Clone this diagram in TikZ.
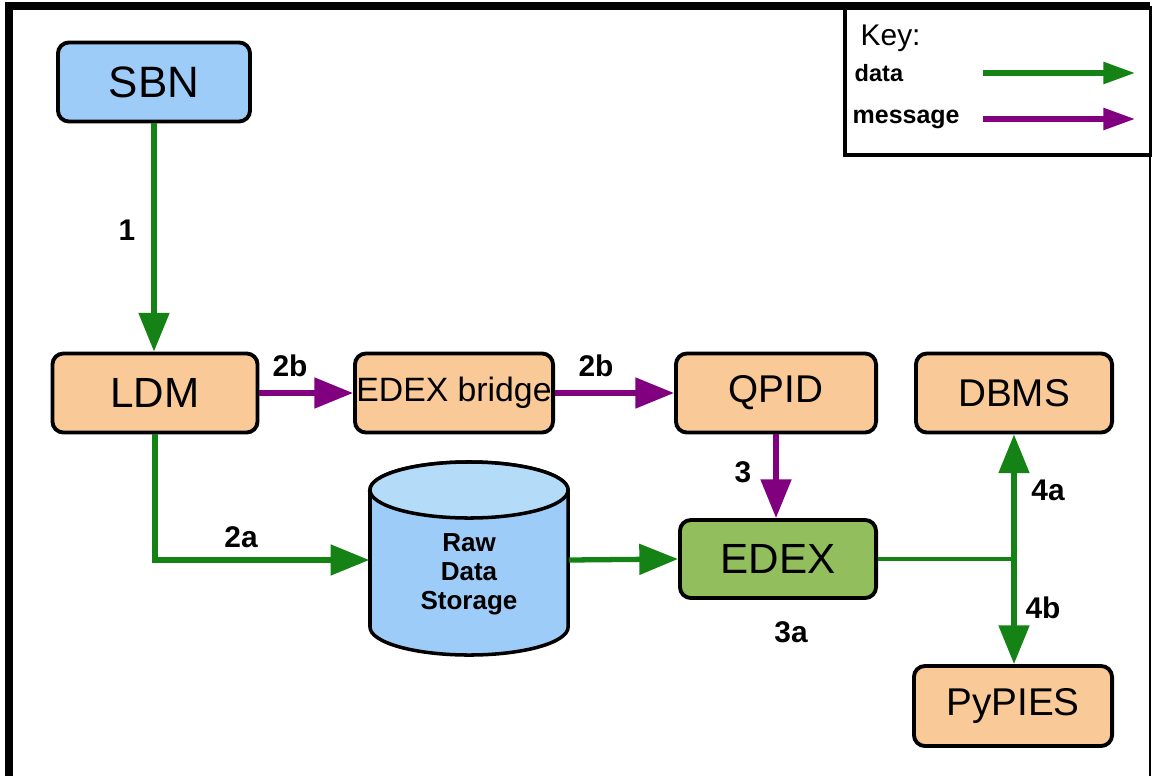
\documentclass[tikz,border=0pt]{standalone}
\usepackage{fontspec}
\setmainfont{Liberation Sans}
\usetikzlibrary{arrows.meta}
\definecolor{dgreen}{RGB}{20,130,20}
\definecolor{dpurple}{RGB}{128,0,128}
\definecolor{orangefill}{RGB}{249,202,152}
\definecolor{bluefill}{RGB}{158,204,248}
\definecolor{toplight}{RGB}{180,220,249}
\definecolor{greenfill}{RGB}{146,190,94}
\begin{document}
\begin{tikzpicture}[x=0.01cm,y=-0.01cm,
  box/.style={draw=black, line width=1.1pt, rounded corners=0.11cm, fill=orangefill,
    minimum width=2cm, minimum height=0.79cm, inner sep=0pt,
    font=\fontsize{11}{13}\selectfont},
  dataarrow/.style={draw=dgreen, line width=1.5pt, -{Triangle[length=11pt,width=8.5pt]}},
  dataline/.style={draw=dgreen, line width=1.3pt},
  msgarrow/.style={draw=dpurple, line width=1.5pt, -{Triangle[length=11pt,width=8.5pt]}},
  keydata/.style={draw=dgreen, line width=1.5pt, -{Triangle[length=9pt,width=6pt]}},
  keymsg/.style={draw=dpurple, line width=1.5pt, -{Triangle[length=9pt,width=6pt]}},
  lbl/.style={font=\bfseries\fontsize{8.5}{10}\selectfont, inner sep=0pt}
]
\useasboundingbox (0,0) rectangle (1152,776);
\fill[white] (0,0) rectangle (1152,776);

% outer frame
\draw[line width=2pt] (9,776) -- (9,6) -- (1150,6);
\draw[line width=0.7pt] (1150,6) -- (1150,776);

% key
\node[draw, line width=1pt, minimum width=3.08cm, minimum height=1.47cm, anchor=north west, inner sep=0pt] (key) at (843,6) {};
\node[anchor=west, font=\fontsize{8.5}{10}\selectfont, inner sep=0pt] (keyt) at (860,38) {Key:};
\node[anchor=west, font=\bfseries\fontsize{6.7}{8}\selectfont, inner sep=0pt] (keyd) at (854,73) {data};
\node[anchor=west, font=\bfseries\fontsize{7.1}{8}\selectfont, inner sep=0pt] (keym) at (852,119) {message};
\coordinate (kd1) at (983,73);
\coordinate (kd2) at (1135,73);
\coordinate (km1) at (983,119);
\coordinate (km2) at (1135,119);
\draw[keydata] (kd1) -- (kd2);
\draw[keymsg] (km1) -- (km2);

% nodes
\node[box, fill=bluefill, minimum width=1.92cm, font=\fontsize{12.5}{14}\selectfont] (sbn) at (154,82) {SBN};
\node[box, minimum width=2.05cm, font=\fontsize{12}{14}\selectfont] (ldm) at (155,393) {LDM};
\node[box, minimum width=1.98cm, font=\fontsize{9.6}{12}\selectfont] (bridge) at (454,393) {EDEX bridge};
\node[box, minimum width=2.0cm] (qpid) at (776,393) {QPID};
\node[box, minimum width=1.96cm] (dbms) at (1014,393) {DBMS};
\node[box, fill=greenfill, minimum width=1.96cm, minimum height=0.78cm, font=\fontsize{12}{14}\selectfont] (edex) at (778,559) {EDEX};
\node[box, minimum width=1.98cm, minimum height=0.8cm] (pypies) at (1013,706) {PyPIES};

% cylinder
\draw[fill=bluefill, line width=1pt] (370,490) -- (370,627)
  arc[start angle=180, end angle=360, x radius=0.99cm, y radius=0.28cm]
  -- (568,490)
  arc[start angle=0, end angle=180, x radius=0.99cm, y radius=0.28cm] -- cycle;
\draw[fill=toplight, line width=1pt] (469,490) ellipse[x radius=0.99cm, y radius=0.28cm];
\node[minimum width=1.98cm, minimum height=1.2cm, inner sep=0pt] (rds) at (469,560) {};
\node[align=center, font=\bfseries\fontsize{7.4}{8.3}\selectfont, inner sep=0pt] (rdstxt) at (469,574) {Raw\\Data\\Storage};

% connectors
\draw[dataarrow] (sbn.south) -- (sbn.south |- ldm.north);
\draw[dataarrow] (ldm.south) |- (rds.west);
\draw[msgarrow] (ldm) -- (bridge);
\draw[msgarrow] (bridge) -- (qpid);
\draw[msgarrow] (qpid.south) -- (qpid.south |- edex.north);
\draw[dataarrow] (rds.east) -- (edex.west);
\coordinate (j) at (1014,559);
\draw[dataline] (edex.east) -- (j);
\draw[dataarrow] (j) -- (dbms.south);
\draw[dataarrow] (j) -- (j |- pypies.north);

% labels
\node[lbl] (l1) at (127,230) {1};
\node[lbl] (l2a) at (241,537) {2a};
\node[lbl] (l2b1) at (290,366) {2b};
\node[lbl] (l2b2) at (596,366) {2b};
\node[lbl] (l3) at (743,472) {3};
\node[lbl] (l3a) at (791,632) {3a};
\node[lbl] (l4a) at (1048,490) {4a};
\node[lbl] (l4b) at (1043,608) {4b};
\end{tikzpicture}
\end{document}
